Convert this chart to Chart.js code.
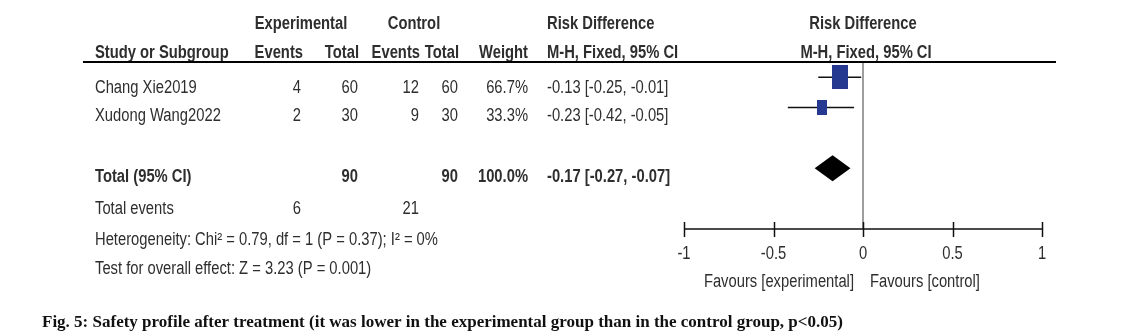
<!DOCTYPE html>
<html>
<head>
<meta charset="utf-8">
<title>Forest plot – risk difference</title>
<script src="https://cdn.jsdelivr.net/npm/chart.js@4.4.1/dist/chart.umd.min.js"></script>
<style>
  html, body { margin: 0; padding: 0; background: #ffffff; }
  canvas { display: block; }
</style>
</head>
<body>
<canvas id="forest" width="1128" height="335"></canvas>
<script>
// ---- study data ----
const studies    = ['Chang Xie2019', 'Xudong Wang2022'];
const expEvents  = [4, 2];
const expTotals  = [60, 30];
const ctrlEvents = [12, 9];
const ctrlTotals = [60, 30];
const weights    = [66.7, 33.3];
const riskDiff   = [-0.13, -0.23];
const ciLower    = [-0.25, -0.42];
const ciUpper    = [-0.01, -0.05];
const studyRows  = [0, 1];

// ---- pooled estimate ----
const pooledRD     = -0.17;
const pooledLower  = -0.27;
const pooledUpper  = -0.07;
const pooledRow    = 3;
const pooledTotals = [90, 90];          // experimental, control
const pooledEvents = [6, 21];           // experimental, control
const pooledWeight = 100.0;

// ---- axis ----
const axisTicks = [-1, -0.5, 0, 0.5, 1];
const favourLabels = ['Favours [experimental]', 'Favours [control]'];

const heterogeneityText = 'Heterogeneity: Chi\u00B2 = 0.79, df = 1 (P = 0.37); I\u00B2 = 0%';
const overallEffectText = 'Test for overall effect: Z = 3.23 (P = 0.001)';
const captionText = 'Fig. 5: Safety profile after treatment (it was lower in the experimental group than in the control group, p<0.05)';

// ---- styling ----
const SANS = '"Liberation Sans Narrow", "Arial Narrow", "Liberation Sans", Arial, sans-serif';
const SERIF = '"Liberation Serif", "Times New Roman", serif';
const NARROW = 0.82;                    // horizontal squeeze for the narrow sans look
const TEXT_COLOR = '#2e2e2e';
const BOX_COLOR = '#24398f';

const fmt2 = v => v.toFixed(2);
const ciText = (rd, lo, hi) => `${fmt2(rd)} [${fmt2(lo)}, ${fmt2(hi)}]`;

// weight-scaled study boxes used as point styles
function weightBox(w) {
  const bw = Math.round(4 + 0.18 * w);
  const bh = Math.round(bw * 1.5);
  const c = document.createElement('canvas');
  c.width = bw; c.height = bh;
  const g = c.getContext('2d');
  g.fillStyle = BOX_COLOR;
  g.fillRect(0, 0, bw, bh);
  return c;
}

// one line dataset per study confidence interval
const ciDatasets = studies.map((s, i) => ({
  type: 'line',
  label: s + ' CI',
  data: [{ x: ciLower[i], y: studyRows[i] }, { x: ciUpper[i], y: studyRows[i] }],
  borderColor: '#111111',
  borderWidth: 1.5,
  pointRadius: 0,
  order: 2
}));

// narrow text helper
function putText(ctx, txt, px, py, align, bold, size) {
  ctx.save();
  ctx.font = (bold ? 'bold ' : '') + (size || 18) + 'px ' + SANS;
  ctx.textAlign = align;
  ctx.textBaseline = 'alphabetic';
  ctx.translate(px, py);
  ctx.scale(NARROW, 1);
  ctx.fillText(txt, 0, 0);
  ctx.restore();
}

// pooled diamond, axis and table text
const forestDecor = {
  id: 'forestDecor',
  afterDatasetsDraw(chart) {
    const { ctx, scales: { x, y }, chartArea } = chart;
    // pooled diamond
    const cy = y.getPixelForValue(pooledRow);
    const half = 13;
    ctx.save();
    ctx.fillStyle = '#000000';
    ctx.beginPath();
    ctx.moveTo(x.getPixelForValue(pooledLower), cy);
    ctx.lineTo(x.getPixelForValue(pooledRD), cy - half);
    ctx.lineTo(x.getPixelForValue(pooledUpper), cy);
    ctx.lineTo(x.getPixelForValue(pooledRD), cy + half);
    ctx.closePath();
    ctx.fill();

    // horizontal axis with ticks crossing it
    const ay = chartArea.bottom;
    ctx.strokeStyle = '#111111';
    ctx.lineWidth = 1.5;
    ctx.beginPath();
    ctx.moveTo(x.getPixelForValue(axisTicks[0]), ay);
    ctx.lineTo(x.getPixelForValue(axisTicks[axisTicks.length - 1]), ay);
    x.ticks.forEach(t => {
      const px = Math.round(x.getPixelForValue(t.value)) + 0.5;
      ctx.moveTo(px, ay - 7);
      ctx.lineTo(px, ay + 8);
    });
    ctx.stroke();
    ctx.restore();

    // tick labels
    ctx.save();
    ctx.fillStyle = TEXT_COLOR;
    x.ticks.forEach(t => {
      putText(ctx, String(t.value), x.getPixelForValue(t.value), ay + 30, 'center', false);
    });
    ctx.restore();
  },
  afterDraw(chart) {
    const { ctx, scales: { x } } = chart;
    ctx.save();
    ctx.fillStyle = TEXT_COLOR;
    const put = (txt, px, py, align, bold) => putText(ctx, txt, px, py, align, bold);

    // column positions
    const colStudy = 95, colExpEv = 303, colExpTot = 359, colCtlEv = 421,
          colCtlTot = 459, colWeight = 528, colCI = 547;
    const mid = x.getPixelForValue(0);

    // header rows
    put('Experimental', 301, 29, 'center', true);
    put('Control', 414, 29, 'center', true);
    put('Risk Difference', colCI, 29, 'left', true);
    put('Risk Difference', mid, 29, 'center', true);
    put('Study or Subgroup', colStudy, 58, 'left', true);
    put('Events', colExpEv, 58, 'right', true);
    put('Total', colExpTot, 58, 'right', true);
    put('Events', colCtlEv - 1, 58, 'right', true);
    put('Total', colCtlTot, 58, 'right', true);
    put('Weight', colWeight, 58, 'right', true);
    put('M-H, Fixed, 95% CI', colCI, 58, 'left', true);
    put('M-H, Fixed, 95% CI', mid + 3, 58, 'center', true);

    // rule under header
    ctx.strokeStyle = '#000000';
    ctx.lineWidth = 2;
    ctx.beginPath();
    ctx.moveTo(83, 62);
    ctx.lineTo(1056, 62);
    ctx.stroke();

    // study rows
    const rowBase = [93, 121];
    studies.forEach((s, i) => {
      const b = rowBase[i];
      put(s, colStudy, b, 'left', false);
      put(String(expEvents[i]), colExpEv - 2, b, 'right', false);
      put(String(expTotals[i]), colExpTot - 1, b, 'right', false);
      put(String(ctrlEvents[i]), colCtlEv - 2, b, 'right', false);
      put(String(ctrlTotals[i]), colCtlTot - 1, b, 'right', false);
      put(weights[i].toFixed(1) + '%', colWeight, b, 'right', false);
      put(ciText(riskDiff[i], ciLower[i], ciUpper[i]), colCI, b, 'left', false);
    });

    // pooled row
    put('Total (95% CI)', colStudy, 182, 'left', true);
    put(String(pooledTotals[0]), colExpTot - 1, 182, 'right', true);
    put(String(pooledTotals[1]), colCtlTot - 1, 182, 'right', true);
    put(pooledWeight.toFixed(1) + '%', colWeight, 182, 'right', true);
    put(ciText(pooledRD, pooledLower, pooledUpper), colCI, 182, 'left', true);

    put('Total events', colStudy, 214, 'left', false);
    put(String(pooledEvents[0]), colExpEv - 2, 214, 'right', false);
    put(String(pooledEvents[1]), colCtlEv - 2, 214, 'right', false);
    put(heterogeneityText, colStudy, 245, 'left', false);
    put(overallEffectText, colStudy, 274, 'left', false);

    // favours labels under the axis
    put(favourLabels[0], mid - 9, 287, 'right', false);
    put(favourLabels[1], mid + 7, 287, 'left', false);

    // caption
    ctx.fillStyle = '#111111';
    ctx.font = 'bold 17px ' + SERIF;
    ctx.textAlign = 'left';
    ctx.textBaseline = 'alphabetic';
    ctx.fillText(captionText, 42, 327);
    ctx.restore();
  }
};

new Chart(document.getElementById('forest'), {
  type: 'scatter',
  data: {
    datasets: [
      {
        type: 'line',
        label: 'no effect',
        data: [{ x: 0, y: -0.5 }, { x: 0, y: 5 }],
        borderColor: '#7f7f7f',
        borderWidth: 1.5,
        pointRadius: 0,
        order: 3
      },
      ...ciDatasets,
      {
        type: 'scatter',
        label: 'Risk difference',
        data: studies.map((s, i) => ({ x: riskDiff[i], y: studyRows[i] })),
        pointStyle: weights.map(weightBox),
        pointRadius: 6,
        order: 1
      }
    ]
  },
  options: {
    responsive: false,
    animation: false,
    devicePixelRatio: 1,
    layout: { padding: { left: 684, right: 86, top: 62, bottom: 0 } },
    plugins: { legend: { display: false }, tooltip: { enabled: false } },
    scales: {
      x: {
        type: 'linear',
        min: axisTicks[0],
        max: axisTicks[axisTicks.length - 1],
        afterBuildTicks: s => { s.ticks = axisTicks.map(v => ({ value: v })); },
        afterFit: s => { s.height = 106; },
        grid: { display: false, drawTicks: false },
        border: { display: false },
        ticks: { display: false }
      },
      y: {
        type: 'linear',
        reverse: true,
        min: -0.5,
        max: 5,
        display: false
      }
    }
  },
  plugins: [forestDecor]
});
</script>
</body>
</html>
